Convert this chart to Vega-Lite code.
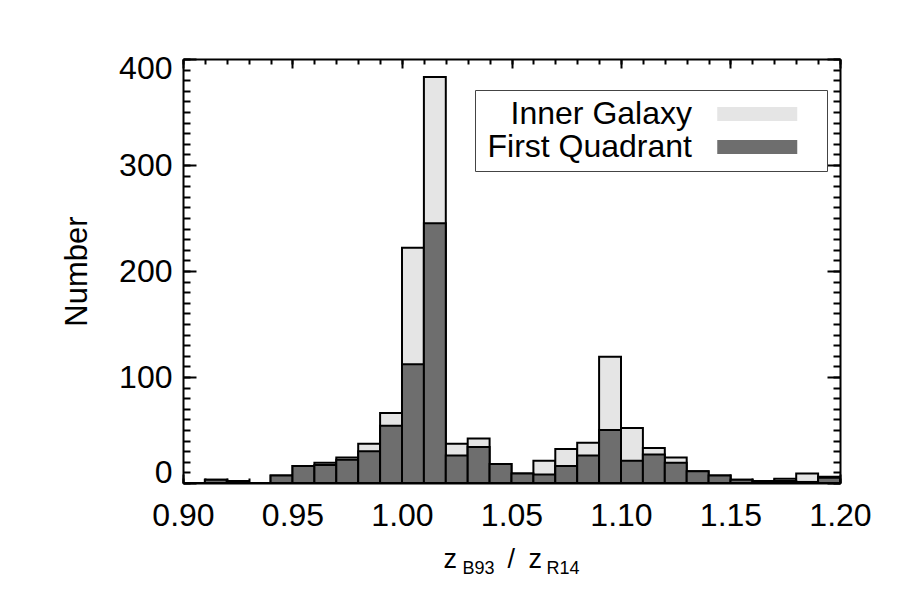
{
  "$schema": "https://vega.github.io/schema/vega-lite/v6.json",
  "width": 657,
  "height": 424,
  "autosize": {"type": "none"},
  "padding": {"left": 183, "top": 59, "right": 60, "bottom": 117},
  "background": "white",
  "config": {
    "view": {"stroke": null},
    "font": "Liberation Sans",
    "axis": {"zindex": 1, "grid": false, "tickColor": "black", "tickWidth": 2, "domainColor": "black", "domainWidth": 2, "labelColor": "black", "titleColor": "black", "titleFontWeight": "normal", "titleFont": "Liberation Sans", "labelFont": "Liberation Sans"}
  },
  "data": {
    "values": [
      {"lo": 0.90, "hi": 0.91, "series": "Inner Galaxy", "n": 0},
      {"lo": 0.91, "hi": 0.92, "series": "Inner Galaxy", "n": 3},
      {"lo": 0.92, "hi": 0.93, "series": "Inner Galaxy", "n": 2},
      {"lo": 0.93, "hi": 0.94, "series": "Inner Galaxy", "n": 0},
      {"lo": 0.94, "hi": 0.95, "series": "Inner Galaxy", "n": 7},
      {"lo": 0.95, "hi": 0.96, "series": "Inner Galaxy", "n": 16},
      {"lo": 0.96, "hi": 0.97, "series": "Inner Galaxy", "n": 19},
      {"lo": 0.97, "hi": 0.98, "series": "Inner Galaxy", "n": 24},
      {"lo": 0.98, "hi": 0.99, "series": "Inner Galaxy", "n": 37},
      {"lo": 0.99, "hi": 1.00, "series": "Inner Galaxy", "n": 66},
      {"lo": 1.00, "hi": 1.01, "series": "Inner Galaxy", "n": 222},
      {"lo": 1.01, "hi": 1.02, "series": "Inner Galaxy", "n": 383},
      {"lo": 1.02, "hi": 1.03, "series": "Inner Galaxy", "n": 37},
      {"lo": 1.03, "hi": 1.04, "series": "Inner Galaxy", "n": 42},
      {"lo": 1.04, "hi": 1.05, "series": "Inner Galaxy", "n": 18},
      {"lo": 1.05, "hi": 1.06, "series": "Inner Galaxy", "n": 9},
      {"lo": 1.06, "hi": 1.07, "series": "Inner Galaxy", "n": 21},
      {"lo": 1.07, "hi": 1.08, "series": "Inner Galaxy", "n": 32},
      {"lo": 1.08, "hi": 1.09, "series": "Inner Galaxy", "n": 38},
      {"lo": 1.09, "hi": 1.10, "series": "Inner Galaxy", "n": 119},
      {"lo": 1.10, "hi": 1.11, "series": "Inner Galaxy", "n": 52},
      {"lo": 1.11, "hi": 1.12, "series": "Inner Galaxy", "n": 33},
      {"lo": 1.12, "hi": 1.13, "series": "Inner Galaxy", "n": 24},
      {"lo": 1.13, "hi": 1.14, "series": "Inner Galaxy", "n": 11},
      {"lo": 1.14, "hi": 1.15, "series": "Inner Galaxy", "n": 7},
      {"lo": 1.15, "hi": 1.16, "series": "Inner Galaxy", "n": 3},
      {"lo": 1.16, "hi": 1.17, "series": "Inner Galaxy", "n": 2},
      {"lo": 1.17, "hi": 1.18, "series": "Inner Galaxy", "n": 4},
      {"lo": 1.18, "hi": 1.19, "series": "Inner Galaxy", "n": 9},
      {"lo": 1.19, "hi": 1.20, "series": "Inner Galaxy", "n": 6},
      {"lo": 0.90, "hi": 0.91, "series": "First Quadrant", "n": 0},
      {"lo": 0.91, "hi": 0.92, "series": "First Quadrant", "n": 3},
      {"lo": 0.92, "hi": 0.93, "series": "First Quadrant", "n": 2},
      {"lo": 0.93, "hi": 0.94, "series": "First Quadrant", "n": 0},
      {"lo": 0.94, "hi": 0.95, "series": "First Quadrant", "n": 7},
      {"lo": 0.95, "hi": 0.96, "series": "First Quadrant", "n": 16},
      {"lo": 0.96, "hi": 0.97, "series": "First Quadrant", "n": 17},
      {"lo": 0.97, "hi": 0.98, "series": "First Quadrant", "n": 22},
      {"lo": 0.98, "hi": 0.99, "series": "First Quadrant", "n": 30},
      {"lo": 0.99, "hi": 1.00, "series": "First Quadrant", "n": 54},
      {"lo": 1.00, "hi": 1.01, "series": "First Quadrant", "n": 112},
      {"lo": 1.01, "hi": 1.02, "series": "First Quadrant", "n": 245},
      {"lo": 1.02, "hi": 1.03, "series": "First Quadrant", "n": 26},
      {"lo": 1.03, "hi": 1.04, "series": "First Quadrant", "n": 34},
      {"lo": 1.04, "hi": 1.05, "series": "First Quadrant", "n": 18},
      {"lo": 1.05, "hi": 1.06, "series": "First Quadrant", "n": 9},
      {"lo": 1.06, "hi": 1.07, "series": "First Quadrant", "n": 8},
      {"lo": 1.07, "hi": 1.08, "series": "First Quadrant", "n": 16},
      {"lo": 1.08, "hi": 1.09, "series": "First Quadrant", "n": 26},
      {"lo": 1.09, "hi": 1.10, "series": "First Quadrant", "n": 50},
      {"lo": 1.10, "hi": 1.11, "series": "First Quadrant", "n": 21},
      {"lo": 1.11, "hi": 1.12, "series": "First Quadrant", "n": 27},
      {"lo": 1.12, "hi": 1.13, "series": "First Quadrant", "n": 19},
      {"lo": 1.13, "hi": 1.14, "series": "First Quadrant", "n": 11},
      {"lo": 1.14, "hi": 1.15, "series": "First Quadrant", "n": 7},
      {"lo": 1.15, "hi": 1.16, "series": "First Quadrant", "n": 3},
      {"lo": 1.16, "hi": 1.17, "series": "First Quadrant", "n": 2},
      {"lo": 1.17, "hi": 1.18, "series": "First Quadrant", "n": 2},
      {"lo": 1.18, "hi": 1.19, "series": "First Quadrant", "n": 1},
      {"lo": 1.19, "hi": 1.20, "series": "First Quadrant", "n": 5}
    ]
  },
  "layer": [
    {
      "transform": [{"filter": "datum.series === 'Inner Galaxy'"}],
      "mark": {"type": "bar", "stroke": "black", "strokeWidth": 2},
      "encoding": {
        "x": {"field": "lo", "type": "quantitative", "scale": {"domain": [0.9, 1.2], "nice": false, "zero": false},
          "axis": {"orient": "bottom", "values": [0.9, 0.95, 1.0, 1.05, 1.1, 1.15, 1.2], "format": ".2f", "labelFontSize": 32, "labelFlush": false, "labelOverlap": false, "labelPadding": 26, "tickSize": -9, "domain": true,
            "title": "z", "titleFontSize": 27, "titleX": 260, "titleY": 84.5, "titleAlign": "left", "titleBaseline": "alphabetic", "titleAngle": 0}},
        "x2": {"field": "hi"},
        "y": {"field": "n", "type": "quantitative", "scale": {"domain": [0, 400], "nice": false},
          "axis": {"orient": "left", "values": [0, 100, 200, 300, 400], "labelFontSize": 32, "labelFlush": true, "labelFlushOffset": 6, "labelOverlap": false, "labelPadding": 24, "tickSize": -13, "domain": true,
            "title": "Number", "titleFontSize": 31, "titleAngle": -90, "titleX": -106, "titleY": 212, "titleAlign": "center", "titleBaseline": "middle"}},
        "y2": {"datum": 0},
        "color": {"field": "series", "type": "nominal", "scale": {"domain": ["Inner Galaxy", "First Quadrant"], "range": ["#e5e5e5", "#6e6e6e"]},
          "legend": {"orient": "none", "legendX": 292, "legendY": 31, "direction": "vertical", "title": " ", "titleOrient": "right", "titleFontSize": 2, "titlePadding": 22, "padding": 8, "strokeColor": "#444444", "fillColor": "white", "symbolType": "M-4,-0.7H4V0.7H-4Z", "symbolSize": 400, "symbolStrokeWidth": 0, "symbolOpacity": 1, "labelFontSize": 32, "labelAlign": "right", "labelOffset": -81.25, "symbolOffset": 258.25, "rowPadding": 1, "labelLimit": 0, "labelColor": "black", "labelFont": "Liberation Sans"}}
      }
    },
    {
      "transform": [{"filter": "datum.series === 'First Quadrant'"}],
      "mark": {"type": "bar", "stroke": "black", "strokeWidth": 2},
      "encoding": {
        "x": {"field": "lo", "type": "quantitative",
          "axis": {"orient": "bottom", "values": [0.9, 0.91, 0.92, 0.93, 0.94, 0.95, 0.96, 0.97, 0.98, 0.99, 1.0, 1.01, 1.02, 1.03, 1.04, 1.05, 1.06, 1.07, 1.08, 1.09, 1.1, 1.11, 1.12, 1.13, 1.14, 1.15, 1.16, 1.17, 1.18, 1.19, 1.2], "labels": false, "tickSize": -5, "domain": false,
            "title": "B93", "titleFontSize": 18, "titleX": 279, "titleY": 90.5, "titleAlign": "left", "titleBaseline": "alphabetic", "titleAngle": 0}},
        "x2": {"field": "hi"},
        "y": {"field": "n", "type": "quantitative",
          "axis": {"orient": "left", "values": [0, 10, 20, 30, 40, 50, 60, 70, 80, 90, 100, 110, 120, 130, 140, 150, 160, 170, 180, 190, 200, 210, 220, 230, 240, 250, 260, 270, 280, 290, 300, 310, 320, 330, 340, 350, 360, 370, 380, 390, 400], "labels": false, "tickSize": -7, "domain": false, "title": null}},
        "y2": {"datum": 0},
        "color": {"field": "series", "type": "nominal", "scale": {"domain": ["Inner Galaxy", "First Quadrant"], "range": ["#e5e5e5", "#6e6e6e"]},
          "legend": {"orient": "none", "legendX": 292, "legendY": 31, "direction": "vertical", "title": " ", "titleOrient": "right", "titleFontSize": 2, "titlePadding": 22, "padding": 8, "strokeColor": "#444444", "fillColor": "white", "symbolType": "M-4,-0.7H4V0.7H-4Z", "symbolSize": 400, "symbolStrokeWidth": 0, "symbolOpacity": 1, "labelFontSize": 32, "labelAlign": "right", "labelOffset": -81.25, "symbolOffset": 258.25, "rowPadding": 1, "labelLimit": 0, "labelColor": "black", "labelFont": "Liberation Sans"}}
      }
    },
    {
      "transform": [{"filter": "datum.series === 'First Quadrant'"}],
      "mark": {"type": "bar", "opacity": 0},
      "encoding": {
        "x": {"field": "lo", "type": "quantitative",
          "axis": {"orient": "top", "values": [0.9, 0.95, 1.0, 1.05, 1.1, 1.15, 1.2], "labels": false, "tickSize": -9, "domain": true,
            "title": "/", "titleFontSize": 27, "titleX": 324, "titleY": 508, "titleAlign": "left", "titleBaseline": "alphabetic", "titleAngle": 0}},
        "x2": {"field": "hi"},
        "y": {"field": "n", "type": "quantitative",
          "axis": {"orient": "right", "values": [0, 100, 200, 300, 400], "labels": false, "tickSize": -13, "domain": true, "title": null}},
        "y2": {"datum": 0}
      }
    },
    {
      "transform": [{"filter": "datum.series === 'First Quadrant'"}],
      "mark": {"type": "bar", "opacity": 0},
      "encoding": {
        "x": {"field": "lo", "type": "quantitative",
          "axis": {"orient": "top", "values": [0.9, 0.91, 0.92, 0.93, 0.94, 0.95, 0.96, 0.97, 0.98, 0.99, 1.0, 1.01, 1.02, 1.03, 1.04, 1.05, 1.06, 1.07, 1.08, 1.09, 1.1, 1.11, 1.12, 1.13, 1.14, 1.15, 1.16, 1.17, 1.18, 1.19, 1.2], "labels": false, "tickSize": -5, "domain": false,
            "title": "z", "titleFontSize": 27, "titleX": 345, "titleY": 508, "titleAlign": "left", "titleBaseline": "alphabetic", "titleAngle": 0}},
        "x2": {"field": "hi"},
        "y": {"field": "n", "type": "quantitative",
          "axis": {"orient": "right", "values": [0, 10, 20, 30, 40, 50, 60, 70, 80, 90, 100, 110, 120, 130, 140, 150, 160, 170, 180, 190, 200, 210, 220, 230, 240, 250, 260, 270, 280, 290, 300, 310, 320, 330, 340, 350, 360, 370, 380, 390, 400], "labels": false, "tickSize": -7, "domain": false,
            "title": "R14", "titleFontSize": 18, "titleX": -294, "titleY": 514, "titleAlign": "left", "titleBaseline": "alphabetic", "titleAngle": 0}},
        "y2": {"datum": 0}
      }
    }
  ],
  "resolve": {"scale": {"x": "shared", "y": "shared", "color": "shared"}, "axis": {"x": "independent", "y": "independent"}}
}
